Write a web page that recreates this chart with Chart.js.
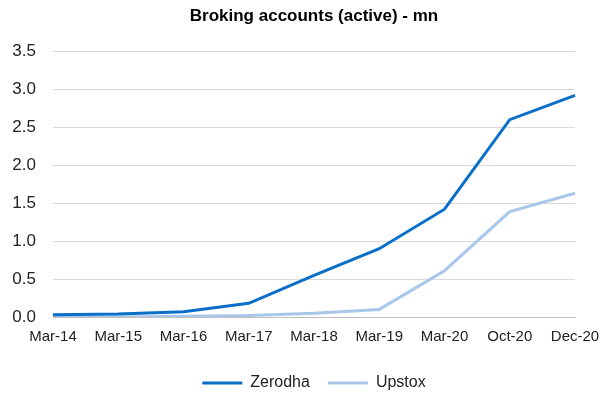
<!DOCTYPE html>
<html>
<head>
    <title>Broking accounts (active)</title>
    <style>
        body { margin: 0; background: #ffffff; }
        #wrap { width: 601px; height: 401px; }
    </style>
</head>
<body>
    <div id="wrap"><canvas id="chart"></canvas></div>

    <script src="https://cdn.jsdelivr.net/npm/chart.js"></script>
    <script>
        const periods = ['Mar-14', 'Mar-15', 'Mar-16', 'Mar-17', 'Mar-18', 'Mar-19', 'Mar-20', 'Oct-20', 'Dec-20'];
        const zerodha = [0.03, 0.04, 0.07, 0.18, 0.55, 0.90, 1.42, 2.60, 2.92];
        const upstox = [0.00, 0.00, 0.01, 0.02, 0.05, 0.10, 0.61, 1.39, 1.63];

        const font = 'Liberation Sans, Arial, Helvetica, sans-serif';

        new Chart(document.getElementById('chart').getContext('2d'), {
            type: 'line',
            data: {
                labels: periods,
                datasets: [{
                    label: 'Zerodha',
                    data: zerodha,
                    borderColor: '#0a6fc8',
                    backgroundColor: '#0a6fc8',
                    borderWidth: 3,
                    pointRadius: 0,
                    tension: 0
                }, {
                    label: 'Upstox',
                    data: upstox,
                    borderColor: '#a9c7eb',
                    backgroundColor: '#a9c7eb',
                    borderWidth: 3,
                    pointRadius: 0,
                    tension: 0
                }]
            },
            options: {
                responsive: true,
                maintainAspectRatio: false,
                animation: false,
                layout: { padding: { top: 4, right: 0, left: 0, bottom: 0 } },
                plugins: {
                    title: {
                        display: true,
                        fullSize: false,
                        text: 'Broking accounts (active) - mn',
                        color: '#000000',
                        font: { family: font, size: 17, weight: 'bold' },
                        padding: { top: 2, bottom: 25 }
                    },
                    legend: {
                        position: 'bottom',
                        fullSize: false,
                        labels: {
                            color: '#222222',
                            font: { family: font, size: 16 },
                            boxWidth: 40,
                            boxHeight: 3,
                            padding: 18,
                            generateLabels: chart => Chart.defaults.plugins.legend.labels.generateLabels(chart)
                                .map(l => Object.assign(l, { lineWidth: 0 }))
                        }
                    },
                    tooltip: { enabled: false }
                },
                scales: {
                    x: {
                        offset: false,
                        grid: { display: false, drawTicks: false },
                        border: { display: true, color: '#bfbfbf', width: 1 },
                        ticks: {
                            color: '#222222',
                            font: { family: font, size: 15 },
                            maxRotation: 0,
                            autoSkip: false,
                            padding: 11
                        },
                        afterFit: s => { s.paddingRight = 26; }
                    },
                    y: {
                        min: 0,
                        max: 3.5,
                        grid: { color: '#d9d9d9', drawTicks: false },
                        border: { display: false },
                        ticks: {
                            stepSize: 0.5,
                            color: '#222222',
                            font: { family: font, size: 17 },
                            padding: 17,
                            callback: v => v.toFixed(1)
                        },
                        afterFit: s => { s.width = 53; }
                    }
                }
            }
        });
    </script>
</body>
</html>
